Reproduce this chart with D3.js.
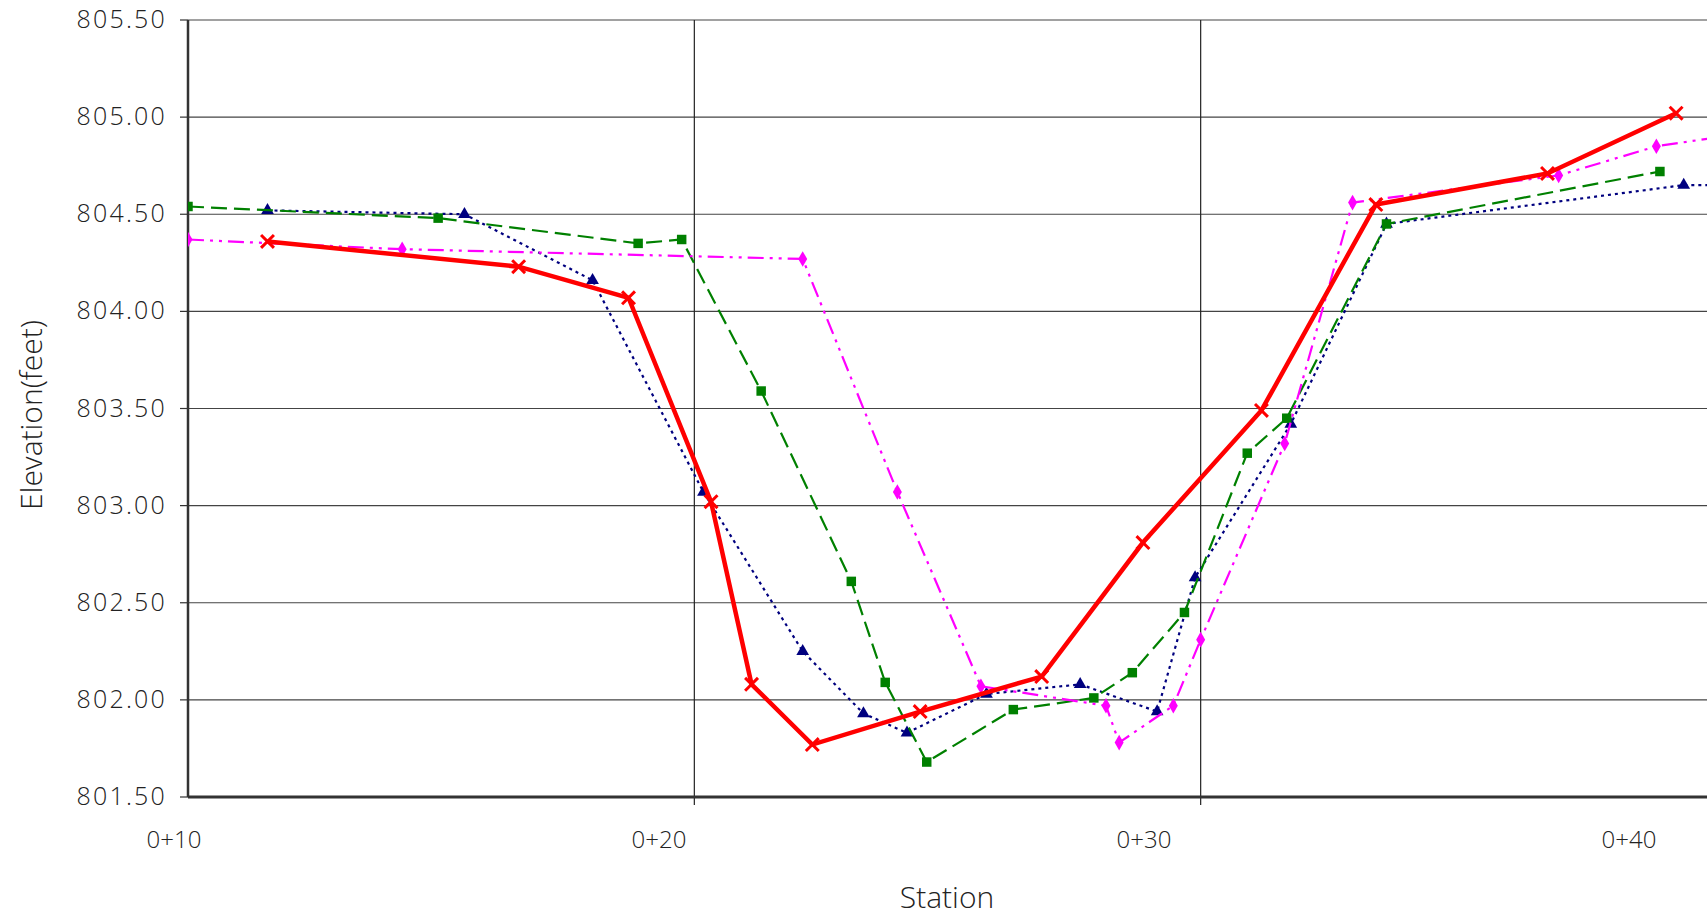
<!DOCTYPE html>
<html>
<head>
<meta charset="utf-8">
<script src="https://cdn.jsdelivr.net/npm/d3@7"></script>
<style>
  body { margin: 0; background: #fff; }
  text { font-family: "Open Sans", sans-serif; fill: #222; }
</style>
</head>
<body>
<svg id="chart" width="1707" height="917"></svg>
<script>
// station (hundreds of feet past 0+00) and elevation
const redStation = [11.57, 16.53, 18.70, 20.33, 21.13, 22.33, 24.46, 26.86, 28.86, 31.20, 33.46, 36.85, 39.39]
const redElev = [804.36, 804.23, 804.07, 803.02, 802.08, 801.77, 801.94, 802.12, 802.81, 803.49, 804.55, 804.71, 805.02]

const navyStation = [11.57, 15.46, 17.99, 20.18, 22.14, 23.34, 24.20, 25.77, 27.62, 29.14, 29.89, 31.78, 33.67, 39.54, 40.5]
const navyElev = [804.52, 804.50, 804.16, 803.07, 802.25, 801.93, 801.83, 802.03, 802.08, 801.94, 802.63, 803.42, 804.45, 804.65, 804.65]

const greenStation = [10.0, 14.94, 18.89, 19.75, 21.32, 23.10, 23.77, 24.59, 26.30, 27.89, 28.65, 29.68, 30.92, 31.70, 33.67, 39.07]
const greenElev = [804.54, 804.48, 804.35, 804.37, 803.59, 802.61, 802.09, 801.68, 801.95, 802.01, 802.14, 802.45, 803.27, 803.45, 804.45, 804.72]

const pinkStation = [10.0, 14.23, 22.14, 24.01, 25.66, 28.13, 28.39, 29.46, 30.0, 31.66, 33.0, 37.07, 39.0, 40.3]
const pinkElev = [804.37, 804.32, 804.27, 803.07, 802.07, 801.97, 801.78, 801.97, 802.31, 803.32, 804.56, 804.70, 804.85, 804.90]

const yTicks = [801.5, 802, 802.5, 803, 803.5, 804, 804.5, 805, 805.5]
const xGrid = [10, 20, 30, 40]
const xLabels = ['0+10', '0+20', '0+30', '0+40']

const svg = d3.select('#chart')
const pLeft = 188, pRight = 1707, pTop = 20, pBottom = 797

let x = d3.scaleLinear().domain([10, 40]).range([pLeft, pRight])
let y = d3.scaleLinear().domain([801.5, 805.5]).range([pBottom, pTop])
// Excel put the category labels on its own spacing, a bit left of the ticks
let xLab = d3.scaleLinear().domain([10, 40]).range([174, 1629])

svg.append('defs').append('clipPath').attr('id', 'plot')
  .append('rect').attr('x', pLeft).attr('y', pTop - 10).attr('width', pRight - pLeft).attr('height', pBottom - pTop + 20)

// grid
svg.append('g').selectAll('line').data(yTicks).join('line')
  .attr('x1', pLeft).attr('x2', pRight).attr('y1', d => y(d)).attr('y2', d => y(d))
  .attr('stroke', '#444').attr('stroke-width', 1.2)
svg.append('g').selectAll('line').data(xGrid.slice(1, 3)).join('line')
  .attr('x1', d => x(d)).attr('x2', d => x(d)).attr('y1', pTop).attr('y2', pBottom + 8)
  .attr('stroke', '#222').attr('stroke-width', 1.2)

// axes
svg.append('line').attr('x1', pLeft).attr('x2', pLeft).attr('y1', pTop).attr('y2', pBottom)
  .attr('stroke', '#333').attr('stroke-width', 2.5)
svg.append('line').attr('x1', pLeft).attr('x2', pRight).attr('y1', pBottom).attr('y2', pBottom)
  .attr('stroke', '#333').attr('stroke-width', 3)
svg.append('g').selectAll('line').data(yTicks).join('line')
  .attr('x1', pLeft - 8).attr('x2', pLeft).attr('y1', d => y(d)).attr('y2', d => y(d))
  .attr('stroke', '#333').attr('stroke-width', 1.2)

svg.append('g').selectAll('text').data(yTicks).join('text')
  .attr('x', 167).attr('y', d => y(d) + 8)
  .attr('text-anchor', 'end').attr('font-size', 25).attr('font-weight', 300)
  .attr('letter-spacing', 2.2)
  .text(d => d.toFixed(2))

svg.append('g').selectAll('text').data(xLabels).join('text')
  .attr('x', (d, i) => xLab(xGrid[i])).attr('y', 848)
  .attr('text-anchor', 'middle').attr('font-size', 24).attr('font-weight', 300)
  .text(d => d)

svg.append('text').attr('x', 947).attr('y', 908).attr('text-anchor', 'middle')
  .attr('font-size', 30).attr('font-weight', 300).text('Station')
svg.append('text').attr('transform', 'translate(42, 415) rotate(-90)')
  .attr('text-anchor', 'middle').attr('font-size', 30).attr('font-weight', 300).text('Elevation(feet)')

const series = [
  { st: navyStation, el: navyElev, color: '#00007f', width: 2.2, dash: '3,4', marker: d3.symbolTriangle, size: 70 },
  { st: greenStation, el: greenElev, color: '#008000', width: 2.2, dash: '16,7', marker: d3.symbolSquare, size: 90 },
  { st: pinkStation, el: pinkElev, color: '#ff00ff', width: 2.2, dash: '16,6,3,6,3,6', marker: d3.symbolDiamond, size: 70 },
  { st: redStation, el: redElev, color: '#ff0000', width: 4.5, dash: null, marker: d3.symbolX, size: 110 },
]

let line = d3.line()
let plot = svg.append('g').attr('clip-path', 'url(#plot)')
series.forEach(s => {
  let pts = s.st.map((d, i) => [x(d), y(s.el[i])])
  plot.append('path').attr('d', line(pts)).attr('fill', 'none')
    .attr('stroke', s.color).attr('stroke-width', s.width)
    .attr('stroke-dasharray', s.dash)
  plot.append('g').selectAll('path').data(pts).join('path')
    .attr('transform', d => `translate(${d[0]}, ${d[1]})`)
    .attr('d', d3.symbol(s.marker, s.size))
    .attr('fill', s.color)
    .attr('stroke', s.marker === d3.symbolX ? s.color : 'none')
    .attr('stroke-width', 3)
})
</script>
</body>
</html>
